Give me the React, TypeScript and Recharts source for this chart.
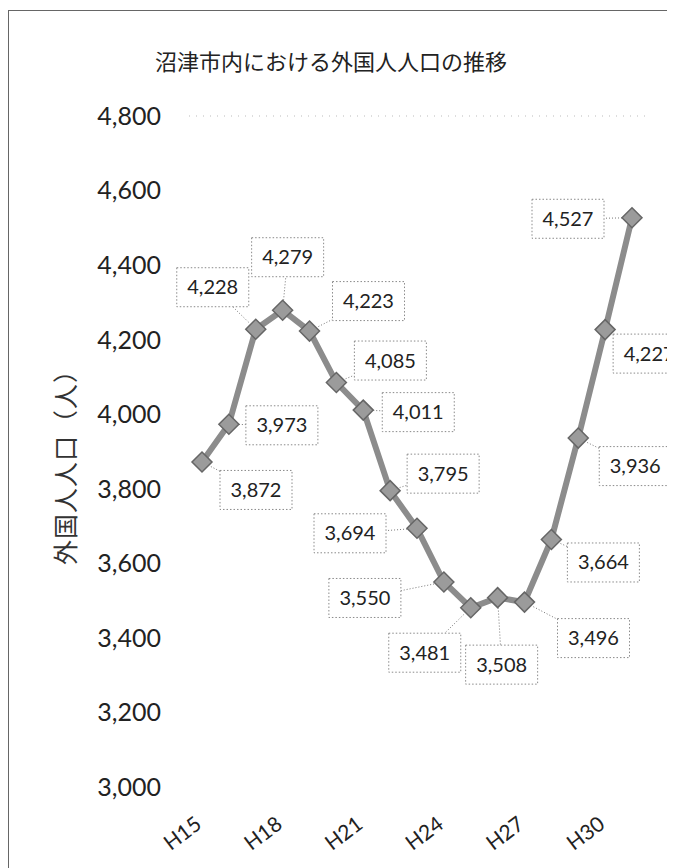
import React from 'react';
import { LineChart, Line, XAxis, YAxis, ReferenceLine } from 'recharts';

// 年度 (平成)
const years = [
  'H15', 'H16', 'H17', 'H18', 'H19', 'H20', 'H21', 'H22', 'H23',
  'H24', 'H25', 'H26', 'H27', 'H28', 'H29', 'H30', 'H31',
];

// 外国人人口 (人)
const population = [
  3872, 3973, 4228, 4279, 4223, 4085, 4011, 3795, 3694,
  3550, 3481, 3508, 3496, 3664, 3936, 4227, 4527,
];

const yTicks = [3000, 3200, 3400, 3600, 3800, 4000, 4200, 4400, 4600, 4800];

// where each data label box sits relative to its point (dx, dy in px)
const labelOffsets: [number, number][] = [
  [54, 28], [53, 1], [-43, -42], [5, -53], [59, -30], [54, -22],
  [55, 2], [53, -17], [-67, 5], [-79, 16], [-46, 45], [4, 67],
  [69, 36], [52, 23], [57, 28], [44, 24], [-64, 1],
];

const data = years.map((year, i) => ({ year, value: population[i] }));

const numFont = 'Lato, "Open Sans", sans-serif';
const jpFont = '"Noto Sans CJK JP", sans-serif';

const fmt = (n: number) => String(n).replace(/\B(?=(\d{3})+(?!\d))/g, ',');

function YearTick({ x, y, payload }: any) {
  const ty = y + 40;
  return (
    <text
      x={x + 1}
      y={ty}
      transform={`rotate(-37, ${x + 1}, ${ty})`}
      textAnchor="end"
      fontFamily={numFont}
      fontSize={21}
      fill="#222"
    >
      {payload.value}
    </text>
  );
}

function PointWithLabel(props: any) {
  const { cx, cy, index, payload } = props;
  if (cx == null || cy == null) return <g key={`p-${index}`} />;
  const [dx, dy] = labelOffsets[index];
  const w = 72;
  const h = 39;
  const bx = cx + dx;
  const by = cy + dy;
  // leader from marker edge to the box edge
  const t = Math.min(
    dx !== 0 ? w / 2 / Math.abs(dx) : Infinity,
    dy !== 0 ? h / 2 / Math.abs(dy) : Infinity
  );
  const ex = bx - dx * t;
  const ey = by - dy * t;
  const dist = Math.hypot(ex - cx, ey - cy);
  const r = 10;
  return (
    <g key={`p-${index}`}>
      {dist > r + 2 && t < 1 && (
        <line
          x1={cx + ((ex - cx) * r) / dist}
          y1={cy + ((ey - cy) * r) / dist}
          x2={ex}
          y2={ey}
          stroke="#777"
          strokeWidth={1}
          strokeDasharray="1 2"
        />
      )}
      <polygon
        points={`${cx},${cy - r} ${cx + r},${cy} ${cx},${cy + r} ${cx - r},${cy}`}
        fill="#9b9b9b"
        stroke="#666"
        strokeWidth={1.5}
      />
      <rect
        x={bx - w / 2}
        y={by - h / 2}
        width={w}
        height={h}
        fill="#fff"
        stroke="#8a8a8a"
        strokeWidth={1}
        strokeDasharray="1.5 2"
      />
      <text
        x={bx}
        y={by + 7}
        textAnchor="middle"
        fontFamily={numFont}
        fontSize={20}
        fill="#222"
      >
        {fmt(payload.value)}
      </text>
    </g>
  );
}

export default function App() {
  return (
    <div style={{ position: 'relative', width: 667, height: 860, overflow: 'hidden' }}>
      <div
        style={{
          position: 'absolute',
          left: 0,
          top: 2,
          width: 720,
          height: 900,
          border: '1px solid #666',
          boxSizing: 'border-box',
        }}
      />
      <div
        style={{
          position: 'absolute',
          left: 0,
          top: 36,
          width: 646,
          textAlign: 'center',
          fontFamily: jpFont,
          fontSize: 22,
          color: '#222',
        }}
      >
        沼津市内における外国人人口の推移
      </div>
      <div
        style={{
          position: 'absolute',
          left: 56,
          top: 453,
          transform: 'translate(-50%, -50%) rotate(-90deg)',
          whiteSpace: 'nowrap',
          fontFamily: jpFont,
          fontSize: 25,
          letterSpacing: 1,
          color: '#333',
        }}
      >
        外国人人口（人）
      </div>
      <div style={{ position: 'absolute', left: 0, top: 0 }}>
        <LineChart
          width={667}
          height={860}
          data={data}
          margin={{ top: 108, right: 30, bottom: 0, left: 0 }}
        >
          <XAxis
            dataKey="year"
            interval={2}
            height={81}
            padding={{ left: 13, right: 13 }}
            axisLine={false}
            tickLine={false}
            tickSize={0}
            tickMargin={0}
            tick={<YearTick />}
          />
          <YAxis
            domain={[3000, 4800]}
            ticks={yTicks}
            width={181}
            axisLine={false}
            tickLine={false}
            tickSize={0}
            tickMargin={28}
            tickFormatter={(v: number) => fmt(v)}
            tick={{ fontFamily: numFont, fontSize: 25, fill: '#222' }}
          />
          <ReferenceLine y={4800} stroke="#bbb" strokeDasharray="1 6" />
          <Line
            type="linear"
            dataKey="value"
            stroke="#8c8c8c"
            strokeWidth={6}
            dot={(p: any) => <PointWithLabel {...p} />}
            activeDot={false}
            isAnimationActive={false}
          />
        </LineChart>
      </div>
    </div>
  );
}
